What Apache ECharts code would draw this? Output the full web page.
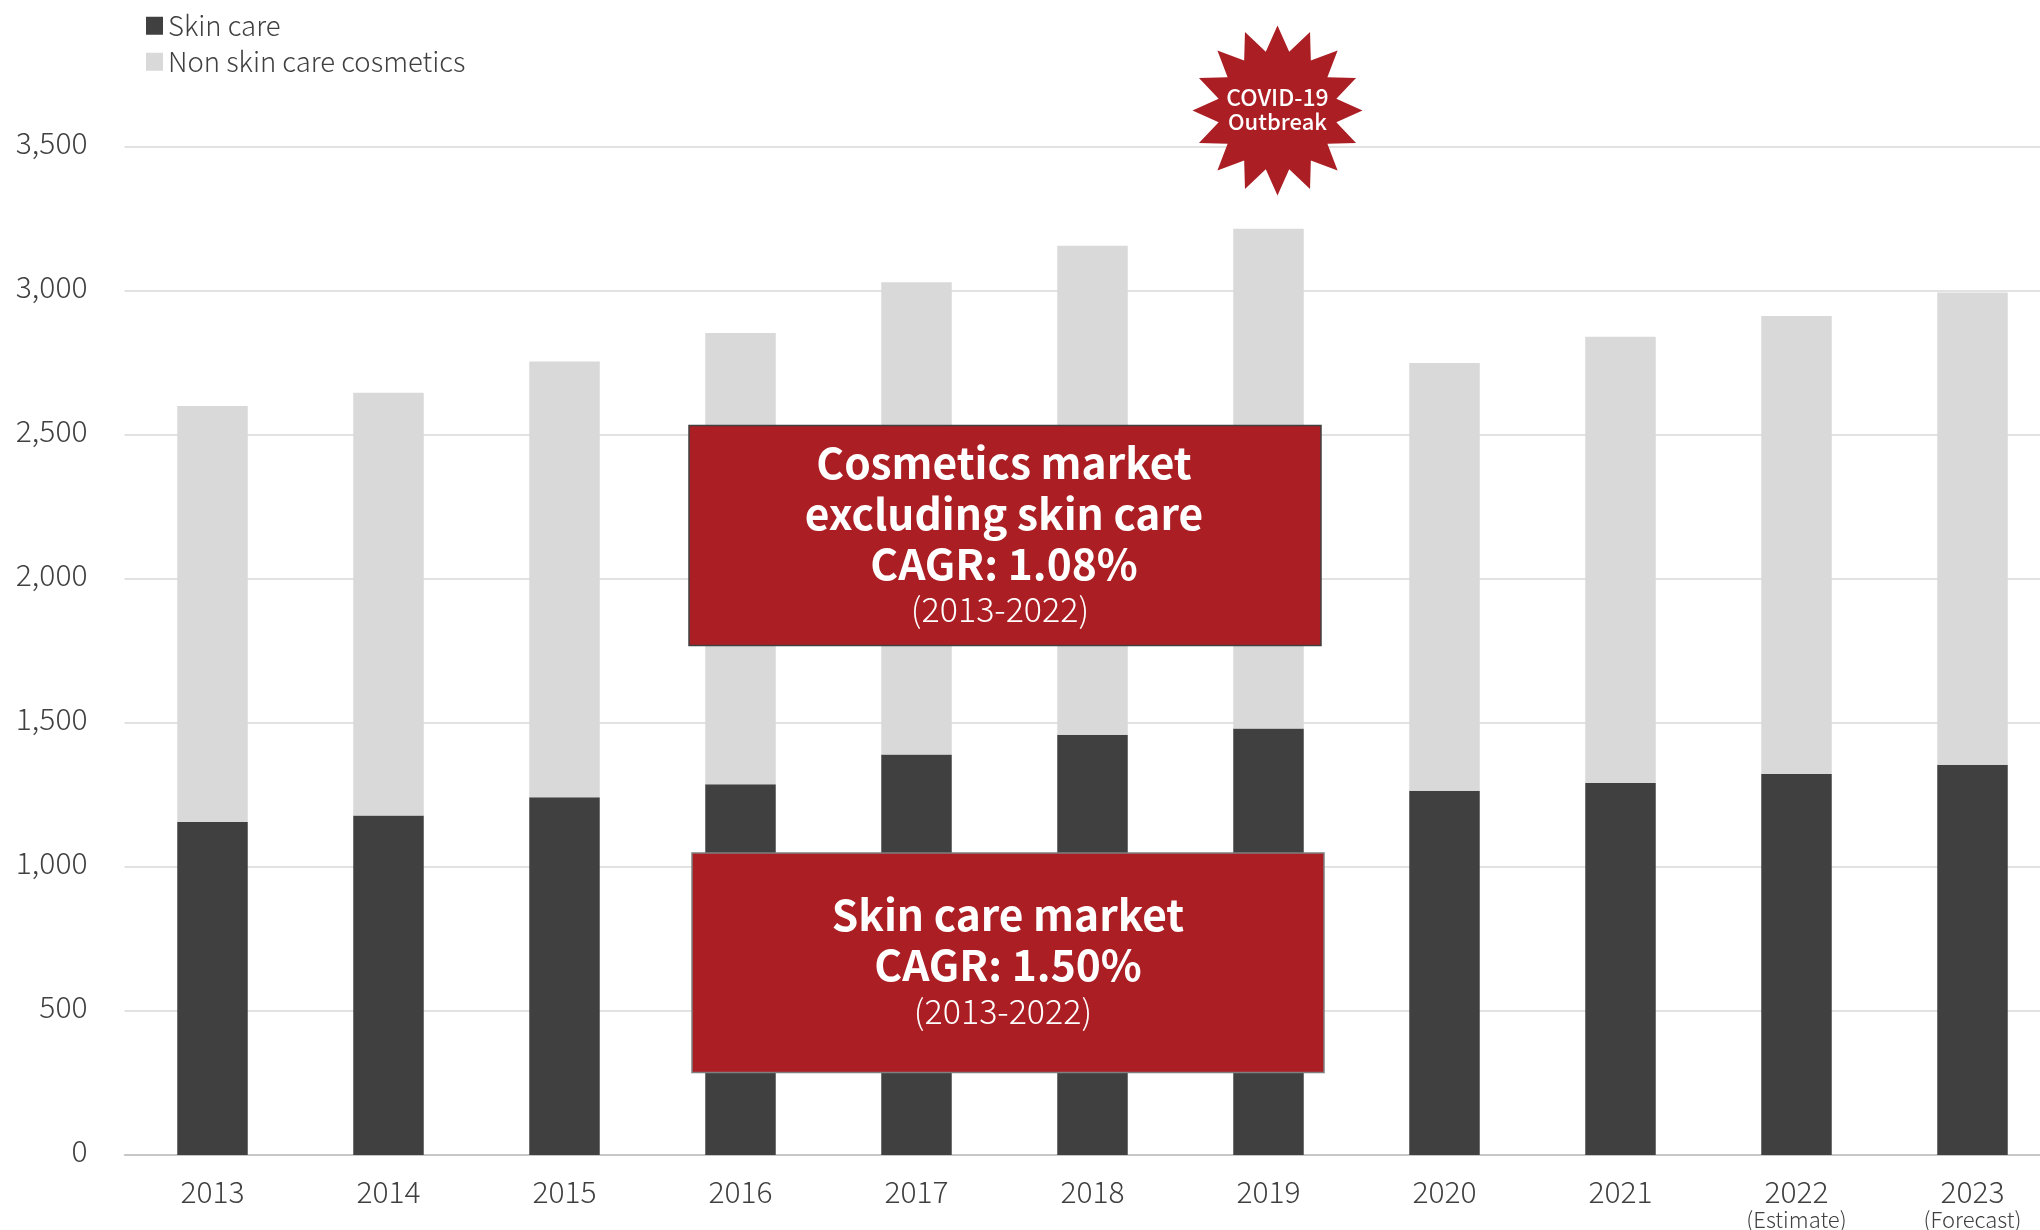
<!DOCTYPE html>
<html>
<head>
<meta charset="utf-8">
<style>html,body{margin:0;padding:0;background:#fff;overflow:hidden}#chart{width:2040px;height:1230px}</style>
<script src="https://cdn.jsdelivr.net/npm/echarts@6/dist/echarts.min.js"></script>
</head>
<body>
<div id="chart"></div>
<script>
const years = ['2013','2014','2015','2016','2017','2018','2019','2020','2021','2022','2023'];
const yearNotes = {'2022':'(Estimate)','2023':'(Forecast)'};
const skinCare = [1156,1179,1242,1287,1391,1459,1481,1265,1292,1323,1355];
const nonSkinCare = [1445,1468,1513,1567,1639,1698,1735,1485,1549,1590,1640];
const yTicks = {min:0,max:3500,interval:500};
const boxOne = ['Cosmetics market','excluding skin care','CAGR: 1.08%','(2013-2022)'];
const boxTwo = ['Skin care market','CAGR: 1.50%','(2013-2022)'];
const burstLines = ['COVID-19','Outbreak'];

const FONT = '"Noto Sans CJK JP","Noto Sans",sans-serif';
const RED = '#AB1E24';
const INK = '#404040';

// sixteen-pointed burst around the origin
function burstPoints(outer, inner, n) {
  const pts = [];
  for (let i = 0; i < n * 2; i++) {
    const r = i % 2 ? inner : outer;
    const a = Math.PI * i / n - Math.PI / 2;
    pts.push([r * Math.cos(a), r * Math.sin(a)]);
  }
  return pts;
}

function label(text, x, y, size, weight) {
  return {type:'text', z:20, x, y, style:{text, fill:'#fff', font:`${weight} ${size}px ${FONT}`, align:'center', verticalAlign:'middle'}};
}

const chart = echarts.init(document.getElementById('chart'), null, {renderer:'canvas'});
chart.setOption({
  animation:false,
  backgroundColor:'#fff',
  textStyle:{fontFamily:FONT},
  grid:{left:124.5, top:147, width:1936, height:1008, containLabel:false, outerBoundsMode:'none'},
  legend:{
    left:146, top:12, padding:0, orient:'vertical', itemWidth:17, itemHeight:18, itemGap:8.5, icon:'rect',
    data:['Skin care','Non skin care cosmetics'],
    textStyle:{fontFamily:FONT, fontWeight:300, fontSize:27.5, color:INK, padding:[0,0,0,0]}
  },
  xAxis:{
    type:'category', data:years,
    axisTick:{show:false},
    axisLine:{lineStyle:{color:'#BFBFBF', width:1.5}},
    axisLabel:{
      margin:20, interval:0, lineHeight:30,
      formatter:v => yearNotes[v] ? `{y|${v}}\n{n|${yearNotes[v]}}` : `{y|${v}}`,
      rich:{
        y:{fontFamily:FONT, fontWeight:300, fontSize:30, color:INK, lineHeight:34},
        n:{fontFamily:FONT, fontWeight:300, fontSize:22, color:INK, lineHeight:21}
      }
    }
  },
  yAxis:{
    type:'value', ...yTicks,
    axisLine:{show:false}, axisTick:{show:false},
    splitLine:{lineStyle:{color:'#D9D9D9', width:1.5}},
    axisLabel:{
      margin:37, fontFamily:FONT, fontWeight:300, fontSize:30, color:INK, verticalAlign:'bottom', lineHeight:8,
      formatter:v => v.toLocaleString('en-US')
    }
  },
  series:[
    {name:'Skin care', type:'bar', stack:'total', data:skinCare, barWidth:70.5, itemStyle:{color:'#404040'}},
    {name:'Non skin care cosmetics', type:'bar', stack:'total', data:nonSkinCare, barWidth:70.5, itemStyle:{color:'#D9D9D9'}}
  ],
  graphic:{elements:[
    {type:'rect', z:10, shape:{x:689,y:425.5,width:632,height:220}, style:{fill:RED, stroke:'#404040', lineWidth:1.5}},
    label(boxOne[0],1004,463,42.5,700),
    label(boxOne[1],1004,514,42.5,700),
    label(boxOne[2],1004,564,42.5,700),
    label(boxOne[3],1000,609,34,300),
    {type:'rect', z:10, shape:{x:692,y:853,width:632,height:219.5}, style:{fill:RED, stroke:'#7f7f7f', lineWidth:1.5}},
    label(boxTwo[0],1008,915,42.5,700),
    label(boxTwo[1],1008,965,42.5,700),
    label(boxTwo[2],1003,1011,34,300),
    {type:'polygon', z:10, x:1277.5, y:110.5, shape:{points:burstPoints(85,60,16)}, style:{fill:RED}},
    label(burstLines[0],1277.5,97,23,500),
    label(burstLines[1],1277.5,122,22,500)
  ]}
});
</script>
</body>
</html>
